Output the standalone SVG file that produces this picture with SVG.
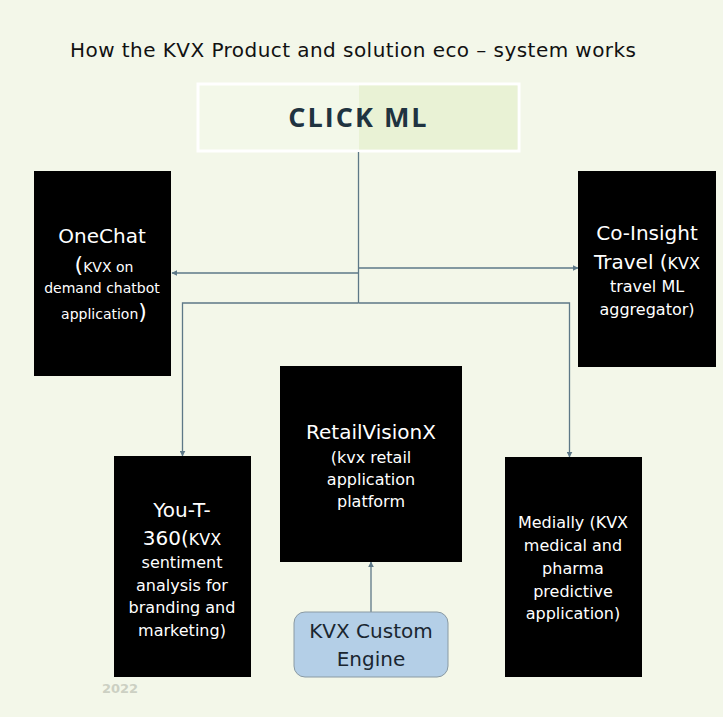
<svg xmlns="http://www.w3.org/2000/svg" width="723" height="717" viewBox="0 0 723 717">
<defs>
<style>
.bg{fill:#f3f7e9}
.box{fill:#000}
.t{font-family:"DejaVu Sans","Liberation Sans",sans-serif;fill:#fff;text-anchor:middle}
.big{font-size:20px}
.mid{font-size:16px}
.sm{font-size:14px}
.ln{fill:none;stroke:#5d7887;stroke-width:1.3}
</style>
<marker id="ah" viewBox="0 0 10 10" refX="9" refY="5" markerWidth="6" markerHeight="6" orient="auto" markerUnits="userSpaceOnUse">
<path d="M0,0 L10,5 L0,10 z" fill="#5d7887"/>
</marker>
</defs>
<rect class="bg" x="0" y="0" width="723" height="717"/>
<text x="70" y="57" font-family="'DejaVu Sans','Liberation Sans',sans-serif" font-size="20" fill="#111" textLength="566" lengthAdjust="spacing">How the KVX Product and solution eco – system works</text>

<g id="clickml">
<rect x="198" y="84" width="321" height="67" fill="#f3f8e9" stroke="#ffffff" stroke-width="3"/>
<rect x="359" y="85.5" width="158.5" height="64" fill="#e9f2d5"/>
<text x="358.5" y="127" font-family="'Open Sans','Liberation Sans',sans-serif" font-size="27" font-weight="bold" fill="#1f3340" text-anchor="middle" letter-spacing="2">CLICK ML</text>
</g>

<g id="connectors">
<path class="ln" d="M358.5,152 V303"/>
<path class="ln" d="M358.5,273 H172" marker-end="url(#ah)"/>
<path class="ln" d="M358.5,268 H578" marker-end="url(#ah)"/>
<path class="ln" d="M358.5,303 H182.5 V456" marker-end="url(#ah)"/>
<path class="ln" d="M358.5,303 H569.5 V457" marker-end="url(#ah)"/>
<path class="ln" d="M371,612 V562" marker-end="url(#ah)"/>
</g>

<g id="onechat">
<rect class="box" x="34" y="171" width="137" height="205"/>
<text class="t big" x="102" y="243">OneChat</text>
<text class="t" x="104" y="272"><tspan font-size="22">(</tspan><tspan class="sm">KVX  on</tspan></text>
<text class="t sm" x="102" y="293">demand chatbot</text>
<text class="t" x="104" y="319"><tspan class="sm">application</tspan><tspan font-size="22">)</tspan></text>
</g>

<g id="coinsight">
<rect class="box" x="578" y="171" width="138" height="196"/>
<text class="t big" x="647" y="240">Co-Insight</text>
<text class="t" x="647" y="269"><tspan class="big">Travel (</tspan><tspan class="mid">KVX</tspan></text>
<text class="t mid" x="647" y="292">travel ML</text>
<text class="t mid" x="647" y="315">aggregator)</text>
</g>

<g id="youT360">
<rect class="box" x="114" y="456" width="137" height="221"/>
<text class="t big" x="182" y="517">You-T-</text>
<text class="t" x="182" y="545"><tspan class="big">360(</tspan><tspan class="mid">KVX</tspan></text>
<text class="t mid" x="182" y="568">sentiment</text>
<text class="t mid" x="182" y="591">analysis for</text>
<text class="t mid" x="182" y="613">branding and</text>
<text class="t mid" x="182" y="636">marketing)</text>
</g>

<g id="retailvisionx">
<rect class="box" x="280" y="366" width="182" height="196"/>
<text class="t big" x="371" y="439">RetailVisionX</text>
<text class="t mid" x="371" y="463">(kvx retail</text>
<text class="t mid" x="371" y="485">application</text>
<text class="t mid" x="371" y="507">platform</text>
</g>

<g id="customengine">
<rect x="294" y="612" width="154" height="65" rx="11" fill="#b4cfe7" stroke="#8a9aa3" stroke-width="1"/>
<text x="371" y="638" font-family="'DejaVu Sans','Liberation Sans',sans-serif" font-size="20" fill="#1a2630" text-anchor="middle">KVX Custom</text>
<text x="371" y="666" font-family="'DejaVu Sans','Liberation Sans',sans-serif" font-size="20" fill="#1a2630" text-anchor="middle">Engine</text>
</g>

<g id="medially">
<rect class="box" x="505" y="457" width="137" height="220"/>
<text class="t mid" x="573" y="528">Medially (KVX</text>
<text class="t mid" x="573" y="551">medical and</text>
<text class="t mid" x="573" y="574">pharma</text>
<text class="t mid" x="573" y="597">predictive</text>
<text class="t mid" x="573" y="619">application)</text>
</g>

<text x="120" y="693" font-family="'DejaVu Sans','Liberation Sans',sans-serif" font-size="13" font-weight="bold" fill="#ccd0c3" text-anchor="middle">2022</text>
</svg>
